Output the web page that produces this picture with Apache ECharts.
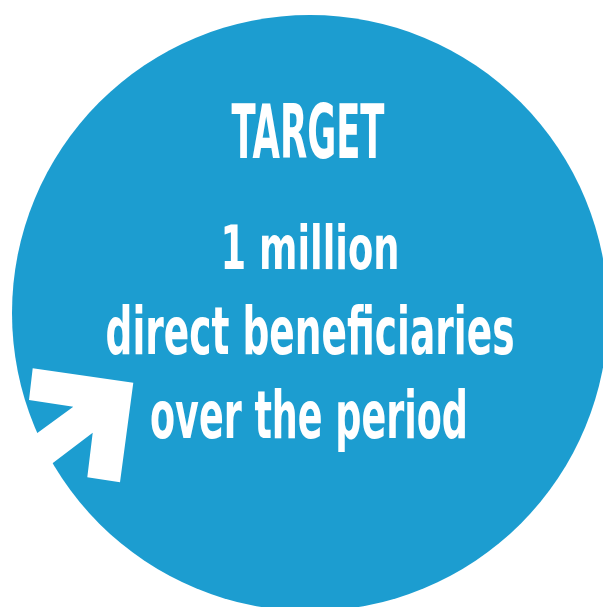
<!DOCTYPE html>
<html>
<head>
<meta charset="utf-8">
<script src="https://cdn.jsdelivr.net/npm/echarts@6/dist/echarts.min.js"></script>
<style>
html,body{margin:0;padding:0;background:#ffffff;}
#chart{width:603px;height:607px;}
</style>
</head>
<body>
<div id="chart"></div>
<script>
// ---- data ----
var targetName = ['Target'];
var targetValue = [1];            // 1 million
var textLines = ['TARGET', '1 million', 'direct bene\u200Cficiaries', 'over the period'];

// ---- layout / style ----
var FONT = '"Liberation Sans Narrow", "DejaVu Sans Condensed", "Roboto", sans-serif';
var lineSizes  = [74, 60, 66, 66];
var lineCX     = [308, 310, 310, 309];
var lineCY     = [139, 253, 337, 421];
var lineWidths = [153, 179, 409, 318];

var cvs = document.createElement('canvas');
var ctx = cvs.getContext('2d');
function measure(t, size) {
  ctx.font = 'bold ' + size + 'px ' + FONT;
  return ctx.measureText(t).width;
}

var graphics = [];
graphics.push({
  type: 'polygon',
  silent: true,
  z: 10,
  shape: {
    points: [
      [32.7, 368.3], [133.3, 382.7], [120, 482.3], [87.3, 477.3],
      [92.7, 432.7], [12, 494], [-8, 466],
      [73.3, 406.7], [29, 400]
    ]
  },
  style: { fill: '#ffffff' }
});

textLines.forEach(function (t, i) {
  var w = measure(t, lineSizes[i]);
  graphics.push({
    type: 'text',
    silent: true,
    z: 10,
    x: lineCX[i],
    y: lineCY[i],
    scaleX: lineWidths[i] / w,
    style: {
      text: t,
      x: 0,
      y: 0,
      fill: '#ffffff',
      fontSize: lineSizes[i],
      fontWeight: 'bold',
      fontFamily: FONT,
      textAlign: 'center',
      textVerticalAlign: 'middle'
    }
  });
});

var chart = echarts.init(document.getElementById('chart'), null, { renderer: 'canvas' });
chart.setOption({
  animation: false,
  backgroundColor: '#ffffff',
  series: [{
    type: 'pie',
    silent: true,
    center: [310, 313],
    radius: [0, 298],
    label: { show: false },
    labelLine: { show: false },
    emphasis: { disabled: true },
    itemStyle: { color: '#1C9DD0', borderWidth: 0 },
    data: targetName.map(function (n, i) { return { name: n, value: targetValue[i] }; })
  }],
  graphic: graphics
});
</script>
</body>
</html>
